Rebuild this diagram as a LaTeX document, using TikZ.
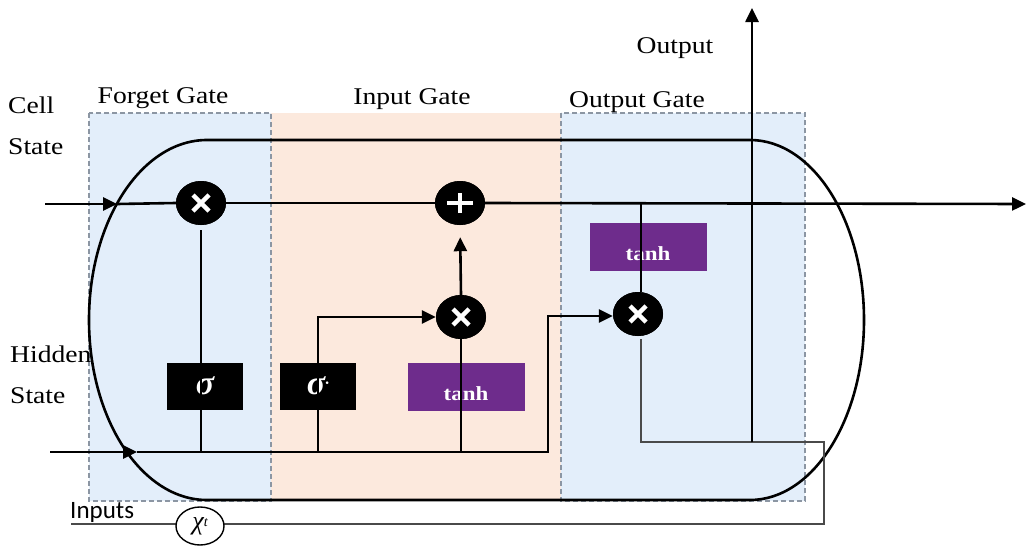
\documentclass[tikz,border=0pt]{standalone}
\usepackage{fontspec}
\setmainfont[FakeStretch=1.15]{Liberation Serif}
\newfontfamily\inpfont{Carlito}
\newfontfamily\grk{Liberation Serif}
\usetikzlibrary{arrows.meta,shapes.geometric}
\definecolor{gblue}{HTML}{E3EEFA}
\definecolor{gpeach}{HTML}{FCE9DD}
\definecolor{tpurple}{HTML}{6E2C8C}
\definecolor{dashgray}{HTML}{8C96A3}
\definecolor{thingray}{HTML}{4A4A4A}
\tikzset{
  lbl/.style={font=\fontsize{24}{28}\selectfont, inner sep=0pt},
  gatebg/.style={draw=dashgray, dash pattern=on 5pt off 3pt, line width=1.1pt},
  heavy/.style={line width=2.6pt, black},
  lite/.style={line width=1.4pt},
  sigbox/.style={fill=black, text=white, minimum width=76pt, minimum height=47pt, inner sep=0pt, font=\grk\fontsize{34}{34}\selectfont\bfseries\itshape},
  tanhbox/.style={fill=tpurple, minimum width=117pt, minimum height=48pt, inner sep=0pt},
  tanhlbl/.style={label={[text=white, font=\fontsize{20}{22}\selectfont\bfseries, yshift=-7pt]center:tanh}},
  op/.style={ellipse, fill=black, minimum width=50pt, minimum height=44pt, inner sep=0pt},
  mul/.style={op, path picture={\draw[white, line width=4.5pt]
      ([shift={(-8pt,-8pt)}]path picture bounding box.center) -- ([shift={(8pt,8pt)}]path picture bounding box.center)
      ([shift={(-8pt,8pt)}]path picture bounding box.center) -- ([shift={(8pt,-8pt)}]path picture bounding box.center);}},
  addop/.style={op, path picture={\draw[white, line width=4.5pt]
      ([shift={(-13pt,0pt)}]path picture bounding box.center) -- ([shift={(13pt,0pt)}]path picture bounding box.center)
      ([shift={(0pt,-10pt)}]path picture bounding box.center) -- ([shift={(0pt,10pt)}]path picture bounding box.center);}},
  tip/.style={-{Triangle[length=14pt,width=13pt]}}
}
\begin{document}
\begin{tikzpicture}[x=1pt,y=-1pt]
\useasboundingbox (0,0) rectangle (1028,546);
% gate regions
\fill[gpeach] (271,113) rectangle (561,501);
\filldraw[fill=gblue, gatebg] (89,113) rectangle (271,501);
\filldraw[fill=gblue, gatebg] (561,113) rectangle (805,501);
% cell outline
\draw[heavy] (207,140) -- (750,140) arc[start angle=-90,end angle=90,x radius=114,y radius=180]
  -- (207,500) arc[start angle=90,end angle=270,x radius=118,y radius=180] -- cycle;
% labels
\node[lbl, anchor=base west] (lcell) at (8,113) {Cell};
\node[lbl, anchor=base west] (lcs) at (8,154) {State};
\node[lbl, anchor=base west] (lhid) at (10,362) {Hidden};
\node[lbl, anchor=base west] (lhs) at (10,403) {State};
\node[lbl, anchor=base] (lfg) at (163,103) {Forget Gate};
\node[lbl, anchor=base] (lig) at (412,104) {Input Gate};
\node[lbl, anchor=base] (log) at (637,107) {Output Gate};
\node[lbl, anchor=base] (lout) at (675,53) {Output};
\node[font=\inpfont\fontsize{25}{28}\selectfont, inner sep=0pt, anchor=base west] (linp) at (70,518) {Inputs};
% coordinates
\coordinate (cin) at (45,204);
\coordinate (carr) at (117,204);
\coordinate (cout) at (1026,204);
\coordinate (hin) at (50,452);
\coordinate (harr) at (137,452);
\coordinate (hb1) at (548,452);
\coordinate (hb2) at (548,316);
\coordinate (oc) at (641,204);
\coordinate (ob1) at (641,442);
\coordinate (ob2) at (824,442);
\coordinate (ob3) at (824,524);
\coordinate (inl) at (71,524);
\coordinate (ovb) at (752,442);
\coordinate (otop) at (752,8);
% boxes
\node[sigbox] (fs) at (205,386) {σ};
\node[sigbox] (is) at (318,386) {σ\raisebox{6pt}{\fontsize{16}{16}\selectfont·}};
\node[tanhbox, tanhlbl] (it) at (466,387) {};
\node[tanhbox, tanhlbl] (ot) at (648,247) {};
% ops
\node[mul] (fx) at (201,203) {};
\node[addop] (add) at (460,203) {};
\node[mul] (ix) at (461,317) {};
\node[mul] (ox) at (638,314) {};
% connectors
\draw[heavy,tip] (cin) -- (carr);
\draw[heavy] (carr) -- (fx.west);
\draw[heavy] (fx.east) -- (add.west);
\draw[heavy,tip] (add.east) -- (cout);
\draw[heavy,tip] (hin) -- (harr);
\draw[heavy,tip] (harr) -- (hb1) -- (hb2) -- (ox.west |- hb2);
\draw[lite, shorten <=5pt] (fx.south) -- (fx.south |- hin);
\draw[heavy,tip] (is.center |- hin) -- (is.center |- ix.west) -- (ix.west);
\draw[heavy] (ix.south |- hin) -- (ix.south);
\draw[heavy,tip, shorten >=12pt] (ix.north) -- (add.south);
\draw[lite] (oc) -- (oc |- ox.north);
\draw[lite, thingray] ([yshift=-3pt]oc |- ox.south) -- (ob1) -- (ob2) -- (ob3) -- (inl);
\draw[heavy,tip] (ovb) -- (otop);
\node[ellipse, draw=black, line width=1.4pt, fill=white, minimum width=48pt, minimum height=38pt, inner sep=0pt, font=\grk\fontsize{26}{26}\selectfont\itshape] (xt) at (200,526) {χ\raisebox{3pt}{\fontsize{14}{14}\selectfont t}};
% redraw ops on top
\node[mul] at (fx) {};
\node[addop] at (add) {};
\node[mul] at (ix) {};
\node[mul] at (ox) {};
\end{tikzpicture}
\end{document}
